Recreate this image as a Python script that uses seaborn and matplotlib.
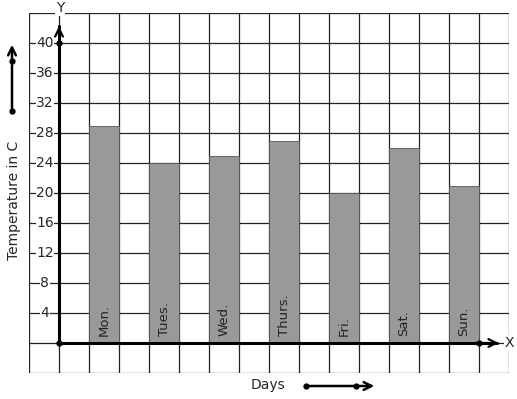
import matplotlib
matplotlib.use("Agg")
import matplotlib.pyplot as plt
import seaborn as sns
import pandas as pd
import numpy as np

days = ["Mon.", "Tues.", "Wed.", "Thurs.", "Fri.", "Sat.", "Sun."]
temps = [29, 24, 25, 27, 20, 26, 21]
positions = [1.5, 3.5, 5.5, 7.5, 9.5, 11.5, 13.5]
ytick_values = [4, 8, 12, 16, 20, 24, 28, 32, 36, 40]

sns.set_style("white")
plt.rcParams["font.family"] = ["DejaVu Sans"]

fig = plt.figure(figsize=(5.17, 3.99), dpi=100)
ax = fig.add_axes([29/517, 26/399, 480/517, 360/399])

df = pd.DataFrame({"pos": positions, "temp": temps, "day": days})
sns.barplot(data=df, x="pos", y="temp", native_scale=True, width=0.5,
            color="#999999", saturation=1, edgecolor="#555555", linewidth=0.6,
            ax=ax, zorder=2)

ax.set_xlim(-1, 15)
ax.set_ylim(-4, 44)
ax.set_xticks(np.arange(-1, 16, 1))
ax.set_yticks(np.arange(-4, 45, 4))
ax.grid(True, color="#222222", linewidth=0.9, zorder=0)
ax.set_axisbelow(True)
ax.tick_params(length=0, labelbottom=False, labelleft=False)
for s in ax.spines.values():
    s.set_visible(False)
ax.set_xlabel("")
ax.set_ylabel("")

# axes arrows
ax.plot([0, 14.6], [0, 0], color="black", lw=2.2, zorder=4, clip_on=False)
ax.plot([0, 0], [0, 42.3], color="black", lw=2.2, zorder=4, clip_on=False)
ax.annotate("", xy=(14.75, 0), xytext=(14.0, 0),
            arrowprops=dict(arrowstyle="->", lw=1.6, color="black", mutation_scale=14), zorder=5)
ax.annotate("", xy=(0, 42.6), xytext=(0, 41.0),
            arrowprops=dict(arrowstyle="->", lw=1.6, color="black", mutation_scale=14), zorder=5)
ax.plot([0, 0, 14], [0, 40, 0], "o", color="black", ms=3.5, zorder=6, clip_on=False)
ax.text(15.0, 0, "X", fontsize=10, va="center", ha="center", zorder=6,
        bbox=dict(facecolor="white", edgecolor="none", pad=0.5))
ax.text(0.03, 44.6, "Y", fontsize=10, va="center", ha="center", zorder=6, clip_on=False,
        bbox=dict(facecolor="white", edgecolor="none", pad=0.5))

for v in ytick_values:
    ax.text(-0.47, v, str(v), fontsize=10, va="center", ha="center", zorder=5,
            bbox=dict(facecolor="white", edgecolor="none", pad=0.3))

for p, d in zip(positions, days):
    ax.text(p, 1.0, d, rotation=90, fontsize=9.5, va="bottom", ha="center",
            color="#222222", zorder=5)

# left label and arrow
fig.text(14/517, 1 - 200/399, "Temperature in C", rotation=90, fontsize=10,
         va="center", ha="center")
fig.add_artist(matplotlib.patches.FancyArrowPatch((12/517, 1 - 111/399), (12/517, 1 - 42/399),
               transform=fig.transFigure, arrowstyle="->", lw=1.8, mutation_scale=14, color="black"))
fig.add_artist(matplotlib.lines.Line2D([12/517, 12/517], [1 - 111/399, 1 - 61/399],
               transform=fig.transFigure, marker="o", ms=3.5, ls="none", color="black"))

# bottom label and arrow
fig.text(268/517, 1 - 385/399, "Days", fontsize=10, va="center", ha="center")
fig.add_artist(matplotlib.patches.FancyArrowPatch((306/517, 1 - 386/399), (377/517, 1 - 386/399),
               transform=fig.transFigure, arrowstyle="->", lw=1.8, mutation_scale=14, color="black"))
fig.add_artist(matplotlib.lines.Line2D([306/517, 356/517], [1 - 386/399, 1 - 386/399],
               transform=fig.transFigure, marker="o", ms=3.5, ls="none", color="black"))

fig.savefig("out.png", dpi=100)
